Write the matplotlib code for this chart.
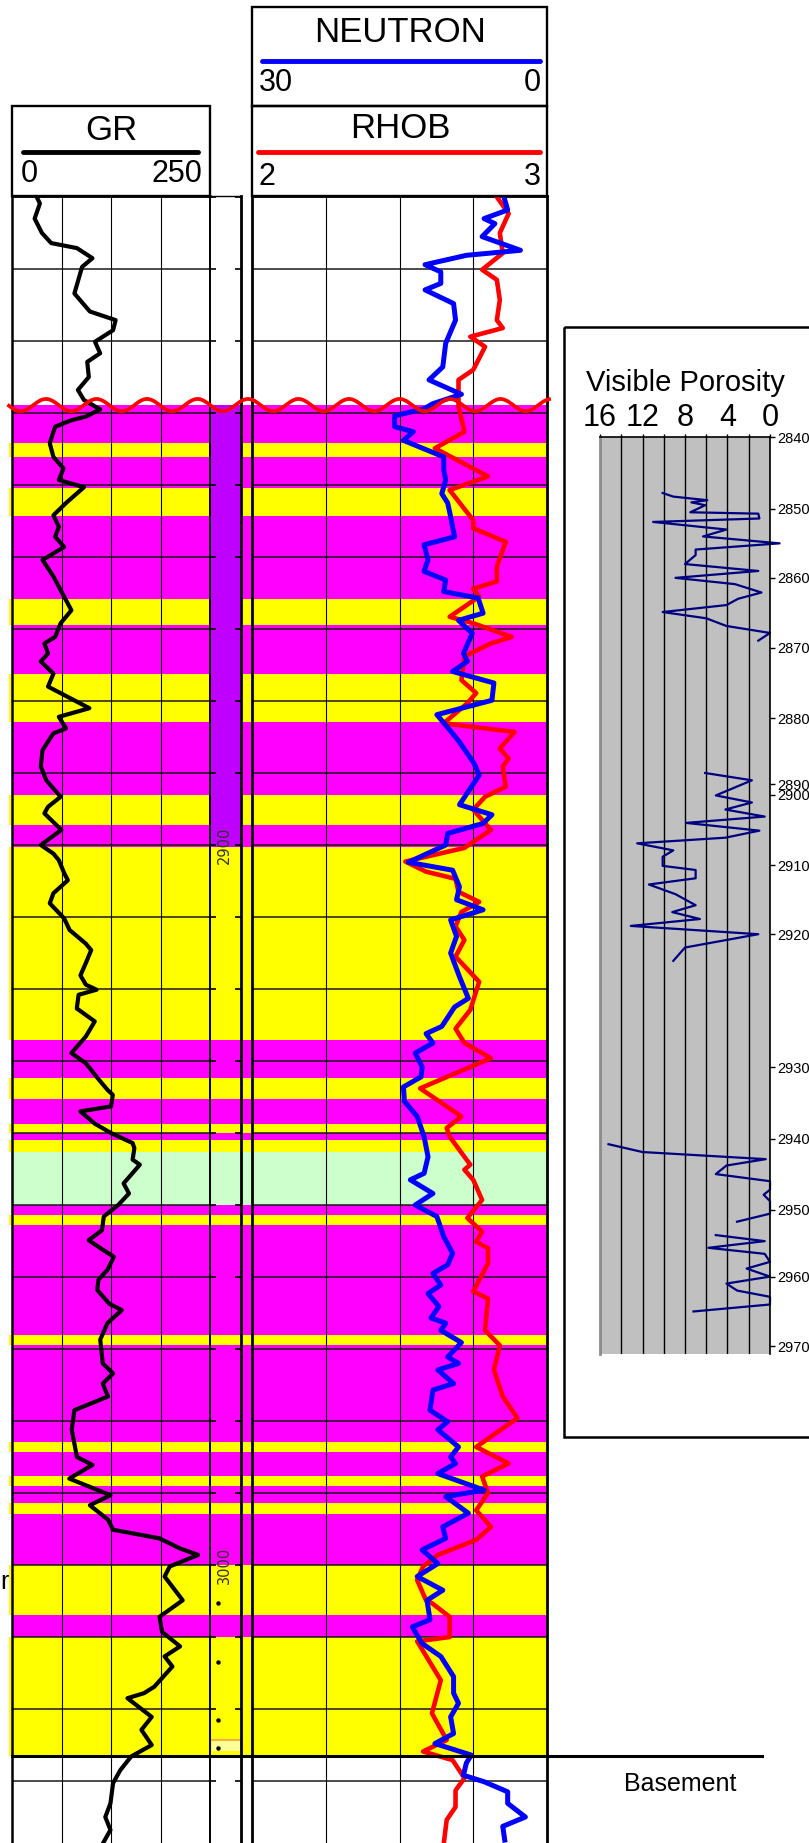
import numpy as np
import matplotlib
matplotlib.use("Agg")
import matplotlib.pyplot as plt
from matplotlib.patches import Rectangle
from matplotlib.ticker import NullLocator

plt.rcParams['font.family'] = ['Liberation Sans', 'DejaVu Sans']

W, H = 809, 1843

# ---------------- wireline logs ----------------
gr_depth = [2809.4, 2810.9, 2813.0, 2815.0, 2816.4, 2817.1, 2818.5, 2819.7, 2823.4, 2825.9,
            2827.1, 2828.5, 2830.1, 2831.7, 2832.9, 2835.0, 2836.8, 2838.2, 2839.5, 2840.5,
            2841.0, 2841.9, 2844.2, 2846.1, 2847.7, 2849.3, 2850.3, 2852.5, 2854.2, 2855.8,
            2857.2, 2858.6, 2860.4, 2862.7, 2865.5, 2867.4, 2869.2, 2871.1, 2872.0, 2873.4,
            2874.5, 2876.2, 2878.0, 2881.0, 2882.2, 2883.8, 2884.5, 2886.8, 2889.1, 2891.0,
            2893.3, 2894.7, 2895.6, 2897.9, 2900.0, 2901.2, 2902.1, 2903.9, 2904.9, 2906.7,
            2908.1, 2910.2, 2911.8, 2913.7, 2914.6, 2916.4, 2918.1, 2919.4, 2920.1, 2920.8,
            2922.7, 2924.5, 2926.6, 2928.9, 2930.3, 2932.2, 2934.0, 2934.7, 2936.3, 2937.0,
            2938.7, 2940.0, 2941.4, 2942.1, 2943.7, 2944.4, 2947.0, 2948.4, 2950.0, 2951.6,
            2953.5, 2954.9, 2956.3, 2957.2, 2959.0, 2960.4, 2961.8, 2963.7, 2964.6, 2966.4,
            2968.7, 2972.0, 2973.4, 2974.8, 2976.6, 2978.5, 2981.2, 2985.0, 2986.1, 2988.0,
            2990.3, 2991.7, 2993.7, 2995.1, 2996.3, 2997.7, 2998.6, 3000.2, 3001.6, 3004.9,
            3007.2, 3009.3, 3011.3, 3012.7, 3014.1, 3016.9, 3017.8, 3018.5, 3021.1, 3022.9,
            3025.0, 3026.6, 3028.5, 3030.3, 3033.1, 3035.0, 3036.8, 3038.7]
gr_api = [28.6, 35.2, 28.6, 37.8, 49.5, 82.0, 101.6, 88.5, 78.8, 98.3,
          130.8, 127.6, 104.8, 111.3, 95.0, 97.0, 83.2, 90.9, 111.4, 93.2,
          75.0, 54.5, 47.7, 52.3, 65.0, 59.1, 90.9, 68.2, 52.3, 59.1,
          54.5, 65.9, 38.6, 52.3, 65.9, 75.0, 61.4, 54.5, 40.9, 45.5,
          36.4, 52.3, 45.5, 97.7, 59.1, 68.2, 52.3, 38.6, 36.4, 43.2,
          61.4, 45.5, 40.9, 62.3, 36.4, 52.3, 59.1, 65.9, 70.5, 52.3,
          47.7, 65.9, 72.7, 93.2, 100.0, 93.2, 86.4, 93.2, 106.8, 84.1,
          81.8, 104.5, 93.2, 75.0, 93.2, 106.8, 120.5, 127.3, 125.0, 86.4,
          104.5, 125.0, 152.3, 154.5, 152.3, 161.4, 140.9, 147.7, 134.1, 115.9,
          113.6, 96.8, 115.9, 128.6, 120.5, 109.1, 107.7, 122.7, 138.6, 120.5,
          111.4, 114.6, 127.6, 114.6, 121.1, 78.8, 75.4, 82.0, 101.6, 72.3,
          124.3, 98.3, 121.1, 127.6, 186.2, 212.2, 235.0, 199.2, 192.7, 215.5,
          186.2, 189.5, 212.2, 192.7, 202.5, 179.7, 166.7, 145.8, 176.4, 163.4,
          176.4, 150.4, 136.7, 127.6, 124.3, 117.8, 124.3, 114.6]

nphi_depth = [2809.4, 2811.8, 2813.0, 2813.7, 2815.5, 2817.4, 2818.1, 2819.4, 2820.4, 2822.0,
              2822.9, 2824.8, 2827.1, 2830.3, 2833.6, 2835.4, 2837.4, 2838.7, 2839.4, 2840.4,
              2841.9, 2842.6, 2843.8, 2846.1, 2847.9, 2849.3, 2851.2, 2852.5, 2854.4, 2857.2,
              2858.3, 2860.4, 2862.0, 2863.2, 2864.8, 2865.7, 2867.8, 2868.8, 2870.6, 2873.4,
              2874.5, 2875.9, 2877.5, 2879.9, 2881.9, 2884.0, 2885.7, 2888.7, 2890.3, 2894.4,
              2895.8, 2897.0, 2898.4, 2900.0, 2902.4, 2903.5, 2905.8, 2907.6, 2909.0, 2910.4,
              2912.7, 2915.0, 2918.3, 2921.3, 2922.5, 2925.2, 2926.2, 2927.5, 2928.9, 2930.8,
              2932.2, 2933.6, 2935.6, 2937.7, 2940.5, 2943.3, 2945.6, 2946.5, 2948.4, 2950.0,
              2951.6, 2954.4, 2956.7, 2958.3, 2959.5, 2961.1, 2962.3, 2964.1, 2965.7, 2966.4,
              2967.4, 2969.1, 2971.1, 2972.0, 2972.9, 2974.8, 2975.7, 2978.5, 2980.1, 2981.2,
              2983.6, 2985.0, 2985.9, 2987.3, 2989.6, 2990.5, 2992.8, 2994.7, 2996.3, 2997.9,
              2999.8, 3001.6, 3003.5, 3004.9, 3007.6, 3008.6, 3010.9, 3012.7, 3015.5, 3017.8,
              3019.2, 3021.1, 3023.4, 3024.8, 3026.4, 3027.5, 3029.2, 3030.1, 3031.5, 3033.1,
              3035.0, 3036.3, 3038.2]
nphi = [4.5, 4.0, 6.4, 5.3, 6.6, 2.7, 8.2, 12.4, 10.8, 10.8,
        12.4, 9.5, 9.3, 10.3, 10.6, 12.0, 8.7, 11.6, 12.5, 15.5,
        15.5, 13.6, 14.6, 10.5, 10.5, 10.3, 10.7, 10.1, 9.8, 9.4,
        12.5, 12.1, 12.5, 10.3, 10.5, 7.0, 6.5, 9.0, 7.6, 8.5,
        8.1, 9.6, 5.4, 5.6, 11.2, 9.9, 8.9, 7.4, 6.9, 8.9,
        5.6, 6.5, 10.1, 10.3, 14.1, 9.6, 8.9, 9.2, 6.5, 9.8,
        9.2, 9.8, 8.9, 8.0, 9.4, 10.7, 12.3, 11.6, 13.4, 12.7,
        12.8, 14.6, 14.5, 13.2, 12.5, 12.1, 12.5, 13.9, 11.6, 13.4,
        11.2, 10.5, 9.6, 10.1, 11.6, 10.8, 12.1, 11.0, 11.8, 10.3,
        10.8, 8.7, 10.1, 9.0, 11.1, 9.5, 11.6, 11.9, 10.1, 11.1,
        9.0, 9.8, 9.3, 11.1, 6.4, 10.3, 8.0, 10.6, 10.3, 12.7,
        11.1, 13.2, 10.6, 12.2, 11.9, 13.7, 12.7, 10.8, 9.5, 9.5,
        9.0, 9.8, 9.5, 11.4, 7.7, 8.2, 8.5, 6.4, 4.0, 4.0,
        2.2, 4.5, 4.3]

rhob_depth = [2810.0, 2812.3, 2815.0, 2817.8, 2820.1, 2821.5, 2824.3, 2827.1, 2828.2, 2829.4,
              2830.8, 2834.0, 2835.4, 2839.1, 2842.6, 2844.9, 2848.8, 2850.7, 2854.9, 2856.0,
              2857.9, 2861.3, 2863.4, 2864.4, 2865.5, 2868.3, 2869.2, 2871.1, 2872.0, 2873.8,
              2877.1, 2878.9, 2880.3, 2883.1, 2884.3, 2886.6, 2888.0, 2889.1, 2891.9, 2893.3,
              2895.1, 2897.9, 2900.4, 2902.3, 2903.7, 2904.7, 2906.5, 2907.9, 2909.3, 2911.3,
              2913.2, 2915.5, 2919.0, 2922.9, 2925.5, 2927.5, 2929.6, 2933.8, 2937.7, 2939.3,
              2940.5, 2943.3, 2944.4, 2945.1, 2946.5, 2949.3, 2951.8, 2953.7, 2955.1, 2956.0,
              2958.1, 2962.0, 2963.0, 2967.4, 2969.5, 2972.9, 2976.6, 2979.6, 2983.6, 2985.9,
              2987.7, 2990.0, 2992.4, 2994.7, 2996.5, 2998.6, 3000.2, 3002.1, 3004.9, 3005.3,
              3007.2, 3010.0, 3010.6, 3016.0, 3020.6, 3024.3, 3025.9, 3027.1, 3029.6, 3031.3,
              3033.6, 3035.4, 3038.7]
rhob = [2.83, 2.87, 2.84, 2.85, 2.78, 2.83, 2.84, 2.83, 2.85, 2.74,
        2.79, 2.75, 2.70, 2.70, 2.72, 2.62, 2.80, 2.67, 2.75, 2.75,
        2.86, 2.83, 2.83, 2.75, 2.77, 2.67, 2.75, 2.88, 2.81, 2.72,
        2.71, 2.76, 2.73, 2.65, 2.89, 2.84, 2.87, 2.85, 2.86, 2.79,
        2.75, 2.81, 2.72, 2.52, 2.59, 2.69, 2.70, 2.77, 2.71, 2.69,
        2.72, 2.69, 2.77, 2.74, 2.69, 2.72, 2.81, 2.57, 2.71, 2.66,
        2.67, 2.72, 2.74, 2.72, 2.75, 2.78, 2.73, 2.78, 2.76, 2.80,
        2.80, 2.75, 2.80, 2.79, 2.84, 2.82, 2.85, 2.90, 2.76, 2.87,
        2.78, 2.80, 2.76, 2.81, 2.76, 2.63, 2.58, 2.56, 2.59, 2.61,
        2.67, 2.67, 2.56, 2.64, 2.61, 2.66, 2.58, 2.68, 2.72, 2.69,
        2.69, 2.66, 2.65]

# ---------------- lithology column ----------------
lith_bounds = [2838.9, 2844.2, 2846.1, 2850.4, 2854.3, 2865.8, 2869.4, 2876.25, 2882.9, 2893.1,
               2897.2, 2900.3, 2927.1, 2932.4, 2935.3, 2938.75, 2940.0, 2941.0, 2942.6, 2950.0,
               2951.4, 2952.8, 2968.1, 2969.4, 2982.9, 2984.3, 2987.6, 2989.0, 2991.4, 2992.9,
               3000.0, 3006.9, 3010.0, 3026.5]
lith_codes = "MYMYMYMYMYMYMYMYMYGMYMYMYMYMYMYMY"
lith_colors = {'M': '#FF00FF', 'Y': '#FFFF00', 'G': '#CCFFCC'}

cored_top, cored_base = 2838.9, 2900.3
unconformity_depth = 2838.9
basement_depth = 3026.5
depth_labels = [2900, 3000]
marker_depths = [3005.3, 3013.5, 3021.5, 3025.4]

# ---------------- visible porosity (thin sections) ----------------
nan = np.nan
por_depth = [2847.8, 2848.3, 2848.8, 2849.1, 2849.5, 2850.5, 2850.7, 2851.4, 2851.9, 2853.0,
             2854.0, 2855.0, 2855.9, 2856.7, 2858.0, 2859.0, 2860.0, 2860.9, 2862.1, 2863.0,
             2863.9, 2864.9, 2865.8, 2866.9, 2867.9, 2869.0, nan,
             2888.3, 2889.4, 2900.1, 2901.1, 2902.1, 2903.1, 2904.0, 2905.1, 2906.1, 2906.9,
             2907.9, 2908.8, 2910.1, 2910.7, 2911.9, 2912.8, 2914.2, 2915.8, 2916.8, 2917.8,
             2918.8, 2920.0, 2921.0, 2922.0, nan,
             2940.8, 2941.9, 2942.9, 2943.8, 2945.0, 2946.0, 2947.2, 2947.9, 2948.8, 2950.6,
             2951.8, nan,
             2953.8, 2954.7, 2955.7, 2956.6, 2957.8, 2958.8, 2960.0, 2961.0, 2962.0, 2962.9,
             2964.0, 2965.0]
por_pct = [10.1, 9.1, 5.9, 7.4, 6.1, 7.5, 1.1, 1.0, 11.0, 4.1,
           6.3, -0.9, 7.0, 7.0, 8.0, 1.1, 8.9, 3.3, 0.8, 3.0,
           4.1, 10.1, 6.0, 4.1, 0.0, 1.1, nan,
           6.1, 1.7, 5.1, 1.7, 4.2, 0.5, 7.9, 1.0, 4.2, 12.5,
           9.1, 10.1, 10.1, 7.0, 7.0, 11.4, 8.9, 7.0, 9.2, 6.6,
           13.1, 1.1, 8.0, 9.1, nan,
           15.2, 12.0, 0.4, 4.1, 5.1, 0.0, 0.0, 0.6, 0.0, 0.0,
           3.1, nan,
           5.1, 0.5, 5.8, 0.5, 0.0, 2.2, 0.0, 4.1, 3.1, 0.0,
           0.0, 7.2]

# the porosity chart's depth axis is not linear: tick depths and their slot positions
por_tick_depths = [2840, 2850, 2860, 2870, 2880, 2890, 2900, 2910, 2920, 2930, 2940, 2950, 2960, 2970]
por_tick_slots = [0, 1.03, 2.02, 3.02, 4.03, 4.98, 5.13, 6.14, 7.13, 9.04, 10.06, 11.08, 12.04, 13.04]

# ---------------------------------------------------------------
fig = plt.figure(figsize=(W / 100, H / 100), dpi=100)


def px_axes(x0, y0, x1, y1, z):
    return fig.add_axes([x0 / W, 1 - y1 / H, (x1 - x0) / W, (y1 - y0) / H], zorder=z)


D_TOP = 2809.86
D_BOT = D_TOP + (H - 196) / 7.2
grid_depths = np.arange(2810, 3031, 10)

# lithology fills behind all tracks
ax_bg = px_axes(0, 196, W, H, 0)
ax_bg.set_xlim(0, W)
ax_bg.set_ylim(D_BOT, D_TOP)
ax_bg.axis('off')
for top, base, code in zip(lith_bounds[:-1], lith_bounds[1:], lith_codes):
    left = 9 if code == 'Y' else 12
    ax_bg.barh((top + base) / 2, 547 - left, height=base - top, left=left,
               color=lith_colors[code], lw=0, antialiased=False)
ax_bg.barh((cored_top + cored_base) / 2, 29, height=cored_base - cored_top, left=211,
           color='#BF00FF', lw=0, antialiased=False)

# GR track
ax_gr = px_axes(12, 196, 210, H, 2)
ax_gr.patch.set_visible(False)
ax_gr.set_xlim(0, 250)
ax_gr.set_ylim(D_BOT, D_TOP)
for g in (62.5, 125, 187.5):
    ax_gr.axvline(g, color='black', lw=0.8, zorder=1)
for d in grid_depths:
    ax_gr.axhline(d, color='#1a1a1a', lw=1.1, zorder=1)
ax_gr.plot(gr_api, gr_depth, color='black', lw=3.0, solid_joinstyle='round', zorder=3)
ax_gr.set_xticks([])
ax_gr.set_yticks([])
ax_gr.spines['bottom'].set_visible(False)
ax_gr.spines['left'].set_linewidth(1.8)
ax_gr.spines['right'].set_linewidth(1.4)
ax_gr.spines['top'].set_linewidth(1.8)

# depth column
ax_dep = px_axes(210, 196, 241, H, 2)
ax_dep.patch.set_visible(False)
ax_dep.set_xlim(0, 1)
ax_dep.set_ylim(D_BOT, D_TOP)
ax_dep.set_xticks([])
ax_dep.set_yticks(grid_depths)
ax_dep.tick_params(axis='y', direction='in', length=4, width=1.2, left=True, right=True,
                   labelleft=False)
ax_dep.spines['left'].set_visible(False)
ax_dep.spines['bottom'].set_visible(False)
ax_dep.spines['right'].set_linewidth(2.0)
ax_dep.spines['top'].set_linewidth(1.0)
ax_dep.axhspan(3024.2, 3025.8, xmin=0.06, xmax=0.97, color='#FFFF99', lw=0)
ax_dep.axhline(3024.3, xmin=0.06, xmax=0.97, color='#F5B041', lw=1.5)
for d in depth_labels:
    ax_dep.text(0.46, d, str(d), rotation=90, ha='center', va='center', fontsize=10.5,
                color='#333333', family='DejaVu Sans')
ax_dep.plot([0.27] * len(marker_depths), marker_depths, 'o', color='black', ms=2.2)

# neutron / density track
ax_rh = px_axes(252, 196, 547, H, 2)
ax_rh.patch.set_visible(False)
ax_rh.set_xlim(2, 3)
ax_rh.set_ylim(D_BOT, D_TOP)
for g in (2.25, 2.5, 2.75):
    ax_rh.axvline(g, color='black', lw=0.8, zorder=1)
for d in grid_depths:
    ax_rh.axhline(d, color='#1a1a1a', lw=1.1, zorder=1)
ax_rh.plot(rhob, rhob_depth, color='#FF0000', lw=3.3, solid_joinstyle='round', zorder=3)
ax_rh.set_xticks([])
ax_rh.set_yticks([])
ax_rh.spines['bottom'].set_visible(False)
for s in ('left', 'right'):
    ax_rh.spines[s].set_linewidth(2.0)
ax_rh.spines['top'].set_linewidth(1.8)

ax_nph = ax_rh.twiny()
ax_nph.set_zorder(3)
ax_nph.patch.set_visible(False)
ax_nph.set_xlim(30, 0)
ax_nph.plot(nphi, nphi_depth, color='#0000FF', lw=3.6, solid_joinstyle='round')
ax_nph.set_xticks([])
for s in ax_nph.spines.values():
    s.set_visible(False)
ax_nph.set_ylim(D_BOT, D_TOP)

# unconformity symbol, basement contact
ax_ov = px_axes(0, 196, W, H, 4)
ax_ov.set_xlim(0, W)
ax_ov.set_ylim(D_BOT, D_TOP)
ax_ov.axis('off')
xw = np.linspace(9, 549, 800)
ax_ov.plot(xw, unconformity_depth - 0.85 * np.cos(2 * np.pi * (xw - 46) / 50.5),
           color='#FF0000', lw=2.7)
ax_ov.plot([12, 762], [basement_depth, basement_depth], color='black', lw=2.2)
ax_ov.text(680, 3030.4, 'Basement', ha='center', va='center', fontsize=18)
ax_ov.text(9, 3002.4, 'r', ha='right', va='center', fontsize=18)

# track headers
ax_px = fig.add_axes([0, 0, 1, 1], zorder=5)
ax_px.set_xlim(0, W)
ax_px.set_ylim(H, 0)
ax_px.axis('off')


def box(x0, y0, x1, y1):
    ax_px.add_patch(Rectangle((x0, y0), x1 - x0, y1 - y0, fill=False, lw=1.7, ec='black'))


box(12, 106, 210, 196)
ax_px.text(111, 130, 'GR', ha='center', va='center', fontsize=25)
ax_px.plot([23, 198], [152, 152], color='black', lw=3.5, solid_capstyle='round')
ax_px.text(21, 174, '0', ha='left', va='center', fontsize=22)
ax_px.text(202, 174, '250', ha='right', va='center', fontsize=22)

box(252, 7, 547, 106)
ax_px.text(400, 33, 'NEUTRON', ha='center', va='center', fontsize=25)
ax_px.plot([262, 540], [61, 61], color='#0000FF', lw=3.5, solid_capstyle='round')
ax_px.text(259, 83, '30', ha='left', va='center', fontsize=22)
ax_px.text(541, 83, '0', ha='right', va='center', fontsize=22)

box(252, 106, 547, 196)
ax_px.text(400, 129, 'RHOB', ha='center', va='center', fontsize=25)
ax_px.plot([258, 540], [152, 152], color='#FF0000', lw=3.5, solid_capstyle='round')
ax_px.text(259, 177, '2', ha='left', va='center', fontsize=22)
ax_px.text(541, 177, '3', ha='right', va='center', fontsize=22)

# porosity panel frame and title
ax_px.add_patch(Rectangle((564, 327), 300, 1110, fill=False, lw=1.8, ec='black'))
ax_px.text(685, 383, 'Visible Porosity', ha='center', va='center', fontsize=21)

# visible porosity chart
kd = [2500] + por_tick_depths + [3300]
kp = [por_tick_slots[0] - 34.0] + por_tick_slots + [por_tick_slots[-1] + 33.0]
ax_por = px_axes(600, 437, 770, 1354, 6)
ax_por.set_facecolor('#C0C0C0')
ax_por.set_yscale('function', functions=(lambda d: np.interp(d, kd, kp),
                                         lambda p: np.interp(p, kp, kd)))
ax_por.set_ylim(2971.1, 2840)
ax_por.set_xlim(16, 0)
xt = np.arange(0, 17, 2)
ax_por.set_xticks(xt, [str(v) if v % 4 == 0 else '' for v in xt])
ax_por.xaxis.tick_top()
ax_por.tick_params(axis='x', length=2.5, width=1, pad=0.5, labelsize=22)
ax_por.grid(axis='x', color='black', lw=1.0)
ax_por.set_yticks(por_tick_depths, [str(d) for d in por_tick_depths])
ax_por.yaxis.set_minor_locator(NullLocator())
ax_por.yaxis.tick_right()
ax_por.tick_params(axis='y', length=3.5, width=1, pad=2, labelsize=10.5)
ax_por.spines['bottom'].set_visible(False)
ax_por.spines['left'].set_color('#8c8c8c')
ax_por.spines['left'].set_linewidth(2.0)
ax_por.spines['right'].set_linewidth(1.2)
ax_por.spines['top'].set_linewidth(1.2)

pd_arr = np.array(por_depth)
pv_arr = np.array(por_pct)
breaks = np.where(np.isnan(pd_arr))[0]
for seg_d, seg_v in zip(np.split(pd_arr, breaks), np.split(pv_arr, breaks)):
    ok = ~np.isnan(seg_d)
    ax_por.plot(seg_v[ok], seg_d[ok], color='#000080', lw=1.6, clip_on=False)

fig.savefig('out.png', dpi=100)
